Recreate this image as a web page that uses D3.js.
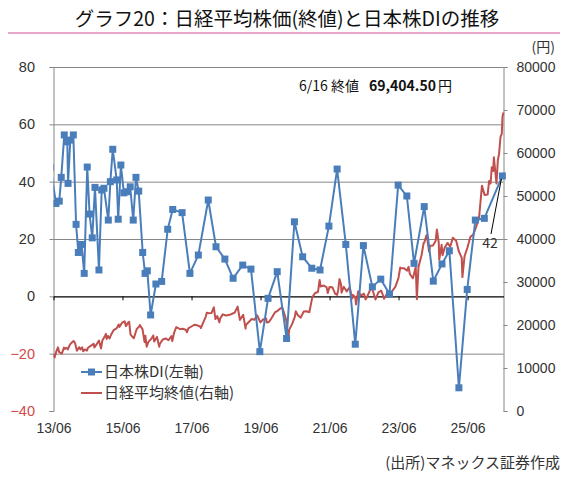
<!DOCTYPE html>
<html><head><meta charset="utf-8">
<script src="https://cdn.jsdelivr.net/npm/d3@7"></script>
<style>
body{margin:0;background:#fff;}
svg{display:block;font-family:"Noto Sans CJK JP","Noto Sans",sans-serif;}
</style></head>
<body><svg id="c" width="585" height="478"></svg>
<script>
// ---- data ----
const titleText = "グラフ20：日経平均株価(終値)と日本株DIの推移";
const xTickDates = ["2013-06-01","2015-06-01","2017-06-01","2019-06-01","2021-06-01","2023-06-01","2025-06-01"];
const xTickLabels = ["13/06","15/06","17/06","19/06","21/06","23/06","25/06"];
const leftTicks = [-40,-20,0,20,40,60,80];
const rightTicks = [0,10000,20000,30000,40000,50000,60000,70000,80000];

const diDates = ["2013-05-01","2013-06-27","2013-08-01","2013-08-22","2013-09-23","2013-10-25","2013-11-02","2013-11-26","2013-12-28",
"2014-01-26","2014-02-19","2014-03-25","2014-04-22","2014-05-24","2014-06-18","2014-07-16","2014-08-14","2014-09-25","2014-10-24","2014-11-17",
"2015-01-02","2015-01-24","2015-02-18","2015-04-01","2015-04-17","2015-05-15","2015-06-16","2015-07-21","2015-08-22","2015-09-23","2015-10-22","2015-11-20",
"2016-01-01","2016-01-26","2016-02-19","2016-03-25","2016-05-20","2016-07-20","2016-09-22","2016-11-14",
"2017-02-21","2017-05-15","2017-08-12","2017-11-25","2018-02-15","2018-05-20","2018-08-15","2018-11-25",
"2019-02-20","2019-05-25","2019-08-20","2019-11-25","2020-03-03","2020-05-25","2020-08-20","2020-11-25",
"2021-02-20","2021-05-25","2021-08-20","2021-11-20","2022-02-28","2022-05-25","2022-08-28","2022-11-25",
"2023-02-25","2023-05-28","2023-08-28","2023-11-12","2024-02-28","2024-06-03","2024-09-03","2024-11-20",
"2025-03-01","2025-05-28","2025-08-22","2025-11-25","2026-06-04"];
const diValues = [45,32.4,33.2,41.5,56.3,53.9,39.4,54.5,56.3,
25.1,15.3,18.1,8.0,45.1,28.7,20.4,38.0,9.2,37.1,37.7,
26.6,40.0,51.3,40.6,26.9,45.8,36.1,36.5,38.2,26.6,41.5,36.7,
15.3,8.0,8.9,-6.5,4.3,5.2,23.4,30.3,
29.2,8.0,14.4,33.6,17.3,13.0,6.3,10.9,
9.5,-19.3,-0.7,8.6,-14.7,26.0,13.8,9.8,
9.2,24.5,44.4,18.1,-16.7,17.7,3.3,6.0,
0.8,38.8,35.0,11.5,31.3,5.3,11.3,15.9,
-31.9,2.4,26.6,27.2,42];

const nikkeiDates = ["2013-06-01","2013-06-13","2013-06-28","2013-07-18","2013-07-31","2013-08-28","2013-09-20","2013-09-30","2013-10-18","2013-10-31","2013-11-15","2013-11-29","2013-12-30",
"2014-01-15","2014-02-04","2014-02-28","2014-03-14","2014-03-31","2014-04-11","2014-04-30","2014-05-21","2014-05-30","2014-06-30","2014-07-31","2014-08-08","2014-08-29","2014-09-25","2014-10-17","2014-10-31","2014-11-28","2014-12-08","2014-12-16","2014-12-30",
"2015-01-16","2015-01-30","2015-02-27","2015-03-31","2015-04-22","2015-04-30","2015-05-29","2015-06-24","2015-07-08","2015-07-31","2015-08-11","2015-08-25","2015-09-08","2015-09-29","2015-10-30","2015-11-30","2015-12-01","2015-12-30",
"2016-01-21","2016-01-29","2016-02-12","2016-02-29","2016-03-31","2016-04-22","2016-05-02","2016-05-31","2016-06-24","2016-06-30","2016-07-29","2016-08-31","2016-09-30","2016-10-31","2016-11-09","2016-11-30","2016-12-21",
"2017-01-31","2017-02-28","2017-03-31","2017-04-14","2017-04-28","2017-05-31","2017-06-30","2017-07-31","2017-08-31","2017-09-08","2017-09-29","2017-10-31","2017-11-09","2017-11-30","2017-12-29",
"2018-01-23","2018-02-09","2018-02-28","2018-03-23","2018-03-30","2018-04-27","2018-05-31","2018-06-29","2018-07-31","2018-08-31","2018-10-02","2018-10-26","2018-11-30","2018-12-25","2018-12-28",
"2019-01-31","2019-02-28","2019-03-29","2019-04-26","2019-05-31","2019-06-28","2019-07-31","2019-08-06","2019-08-30","2019-09-30","2019-10-31","2019-11-29","2019-12-27",
"2020-01-17","2020-01-31","2020-02-28","2020-03-19","2020-03-31","2020-04-30","2020-05-29","2020-06-08","2020-06-30","2020-07-31","2020-08-31","2020-09-30","2020-10-30","2020-11-30","2020-12-30",
"2021-01-29","2021-02-16","2021-02-26","2021-03-31","2021-04-30","2021-05-13","2021-05-31","2021-06-30","2021-07-30","2021-08-20","2021-08-31","2021-09-14","2021-09-30","2021-10-06","2021-10-29","2021-11-30","2021-12-30",
"2022-01-27","2022-01-31","2022-02-28","2022-03-08","2022-03-31","2022-04-28","2022-05-31","2022-06-17","2022-06-30","2022-07-29","2022-08-17","2022-08-31","2022-09-30","2022-10-31","2022-11-30","2022-12-28","2022-12-30",
"2023-01-31","2023-02-28","2023-03-15","2023-03-31","2023-04-28","2023-05-31","2023-06-19","2023-06-30","2023-07-31","2023-08-31","2023-09-15","2023-09-29","2023-10-31","2023-11-30","2023-12-12","2023-12-29",
"2024-01-31","2024-02-22","2024-02-29","2024-03-22","2024-03-29","2024-04-19","2024-04-30","2024-05-31","2024-06-28","2024-07-11","2024-07-31","2024-08-05","2024-08-30","2024-09-09","2024-09-30","2024-10-31","2024-11-29","2024-12-27",
"2025-01-31","2025-02-28","2025-03-31","2025-04-07","2025-04-30","2025-05-30","2025-06-30","2025-07-31","2025-08-29","2025-09-30","2025-10-31","2025-11-28","2025-12-30",
"2026-01-15","2026-01-30","2026-02-12","2026-02-27","2026-03-06","2026-03-20","2026-04-03","2026-04-17","2026-04-30","2026-05-15","2026-05-29","2026-06-05","2026-06-16"];
const nikkeiValues = [13260,12445,13677,14808,13668,13338,14742,14456,14694,14328,15166,15662,16291,
15808,14008,14841,14327,14828,13910,14304,14042,14632,15162,15621,14778,15425,16374,14532,16414,17460,17935,16755,17451,
16864,17674,18798,19207,20133,19520,20563,20868,19737,20585,20720,17806,17427,16930,19083,19747,20012,19034,
16017,17518,14952,16027,16759,17572,16147,17235,14952,15576,16569,16887,16450,17425,16251,18308,19494,
19041,19119,18909,18335,19197,19651,20033,19925,19646,19275,20356,22012,22869,22725,22765,
24124,21383,22068,20617,21454,22468,22202,22305,22554,22865,24271,21184,22351,19155,20015,
20773,21385,21206,22259,20601,21276,21522,20585,20704,21756,22927,23294,23837,
24041,23205,21143,16552,18917,20194,21878,23178,22288,21710,23140,23185,22977,26434,27444,
27663,30467,28966,29179,28813,27448,28860,28792,27284,27013,28090,30670,29453,27528,28893,27822,28792,
26170,27002,26527,24790,27821,26848,27280,25963,26393,27802,29222,28092,25937,27587,27969,26340,26095,
27327,27446,27229,28041,28856,30888,33370,33189,33172,32619,33533,31858,30859,33487,26000,33464,
36287,39098,39166,40888,40369,37068,38406,38488,39583,42224,39102,35200,38648,36215,37920,39081,38208,40281,
39572,37156,35618,31136,36045,37965,40487,41070,42718,44933,52411,50254,50339,
53500,52900,56700,55800,59000,55900,52900,58300,59800,63700,64500,68400,69404.5];

const legendLabels = ["日本株DI(左軸)","日経平均終値(右軸)"];
const noteLabel = "6/16 終値";
const noteValue = "69,404.50";
const lastDILabel = "42";

// ---- drawing ----
const svg = d3.select("#c");
const parse = d3.timeParse("%Y-%m-%d");
const L = 53.5, R = 503.5, T = 67, B = 411;
const x = d3.scaleTime().domain([parse("2013-06-01"), parse("2026-06-16")]).range([L, R]);
const yL = d3.scaleLinear().domain([-40, 80]).range([B, T]);
const yR = d3.scaleLinear().domain([0, 80000]).range([B, T]);
const gray = "#868686", blue = "#4a7ebb", red = "#c0504d", txt = "#333";

svg.append("defs").append("clipPath").attr("id","clip")
  .append("rect").attr("x", L).attr("y", T-10).attr("width", R-L+10).attr("height", B-T+20);

// title
svg.append("text").attr("x", 287).attr("y", 26).attr("text-anchor","middle")
  .attr("font-size", 19.5).attr("fill","#111").text(titleText);
svg.append("line").attr("x1", 8).attr("x2", 560).attr("y1", 33).attr("y2", 33)
  .attr("stroke","#e8a6c8").attr("stroke-width", 2);
svg.append("text").attr("x", 555).attr("y", 52).attr("text-anchor","end")
  .attr("font-size", 14).attr("fill", txt).text("(円)");

// gridlines
svg.append("g").attr("transform",`translate(${L},0)`)
  .call(d3.axisLeft(yL).tickValues(leftTicks.filter(v => v !== 0 && v !== -40)).tickSize(-(R-L)).tickFormat(""))
  .call(g => g.select(".domain").remove())
  .call(g => g.selectAll("line").attr("stroke", gray).attr("stroke-width", 1));

// left axis
const gl = svg.append("g").attr("transform",`translate(${L},0)`)
  .call(d3.axisLeft(yL).tickValues(leftTicks).tickSize(4).tickPadding(14.5));
gl.select(".domain").attr("stroke", gray);
gl.selectAll("line").attr("stroke", gray);
gl.selectAll("text").attr("font-size", 14.5).attr("font-family","inherit")
  .attr("fill", d => d < 0 ? "#d04a48" : txt);

// right axis
const gr = svg.append("g").attr("transform",`translate(${R},0)`)
  .call(d3.axisRight(yR).tickValues(rightTicks).tickSize(4).tickPadding(9).tickFormat(d3.format("d")));
gr.select(".domain").attr("stroke", gray);
gr.selectAll("line").attr("stroke", gray);
gr.selectAll("text").attr("font-size", 14).attr("font-family","inherit").attr("fill", txt);

// x axis (zero line)
const tickDates = xTickDates.map(parse);
const gx = svg.append("g").attr("transform",`translate(0,${yL(0)})`)
  .call(d3.axisBottom(x).tickValues(tickDates).tickSize(4).tickFormat("").tickSizeOuter(0));
gx.select(".domain").attr("stroke","#000").attr("stroke-width",1.2);
gx.selectAll("line").attr("stroke","#000");
const gxl = svg.append("g").attr("transform",`translate(0,${B})`)
  .call(d3.axisBottom(x).tickValues(tickDates).tickSize(0).tickPadding(12)
    .tickFormat((d,i) => xTickLabels[i]));
gxl.select(".domain").remove();
gxl.selectAll("text").attr("font-size", 14).attr("font-family","inherit").attr("fill", txt);

// Nikkei line
const nk = nikkeiDates.map((d,i) => ({d: parse(d), v: nikkeiValues[i]}));
svg.append("path").datum(nk).attr("clip-path","url(#clip)")
  .attr("fill","none").attr("stroke", red).attr("stroke-width", 2).attr("stroke-linejoin","round")
  .attr("d", d3.line().x(p => x(p.d)).y(p => yR(p.v)));

// DI line
const di = diDates.map((d,i) => ({d: parse(d), v: diValues[i]}));
const gdi = svg.append("g").attr("clip-path","url(#clip)");
gdi.append("path").datum(di).attr("fill","none").attr("stroke", blue).attr("stroke-width", 2)
  .attr("stroke-linejoin","round")
  .attr("d", d3.line().x(p => x(p.d)).y(p => yL(p.v)));
gdi.selectAll("rect").data(di).join("rect")
  .attr("x", p => x(p.d) - 3.5).attr("y", p => yL(p.v) - 3.5)
  .attr("width", 7).attr("height", 7).attr("fill", blue);

// label for last DI point
const last = di[di.length-1];
svg.append("line").attr("x1", 491).attr("y1", 234).attr("x2", x(last.d) - 1).attr("y2", yL(last.v) + 3)
  .attr("stroke","#000").attr("stroke-width", 1);
svg.append("text").attr("x", 490).attr("y", 248).attr("text-anchor","middle")
  .attr("font-size", 14).attr("fill", txt).text(lastDILabel);

// note
const note = svg.append("text").attr("x", 299).attr("y", 91).attr("font-size", 14).attr("fill", "#111");
note.append("tspan").text(noteLabel);
note.append("tspan").attr("x", 369).attr("font-weight","bold").text(noteValue);
note.append("tspan").attr("dx", 2).text("円");

// legend
const lg = svg.append("g");
lg.append("line").attr("x1", 81).attr("x2", 102).attr("y1", 372).attr("y2", 372).attr("stroke", blue).attr("stroke-width", 2);
lg.append("rect").attr("x", 88).attr("y", 368.5).attr("width", 7).attr("height", 7).attr("fill", blue);
lg.append("text").attr("x", 104).attr("y", 377).attr("font-size", 15).attr("fill", txt).text(legendLabels[0]);
lg.append("line").attr("x1", 81).attr("x2", 102).attr("y1", 393).attr("y2", 393).attr("stroke", red).attr("stroke-width", 2);
lg.append("text").attr("x", 104).attr("y", 398).attr("font-size", 15).attr("fill", txt).text(legendLabels[1]);

// source
svg.append("text").attr("x", 560).attr("y", 468).attr("text-anchor","end")
  .attr("font-size", 15).attr("fill", txt).text("(出所)マネックス証券作成");
</script></body></html>
